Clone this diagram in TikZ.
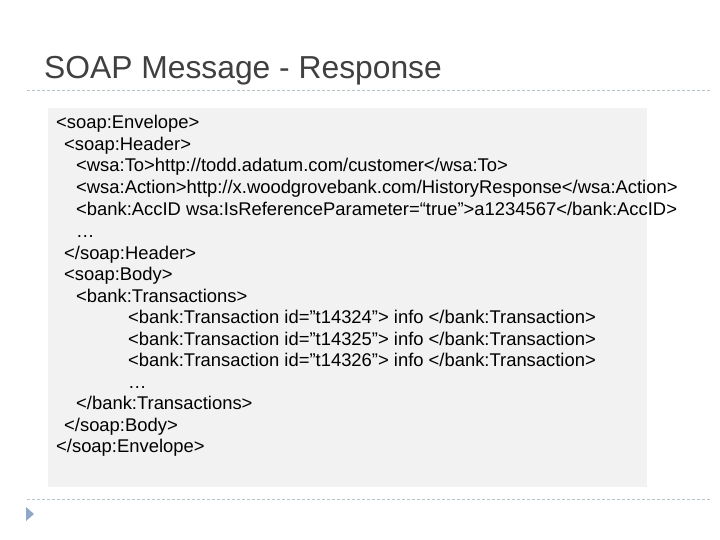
\documentclass[tikz,border=0pt]{standalone}
\usepackage{fontspec}
\setmainfont{Liberation Sans}
\definecolor{boxgray}{HTML}{F2F2F2}
\definecolor{titlegray}{HTML}{404040}
\definecolor{dashgray}{HTML}{B8C4CC}
\definecolor{bulletblue}{HTML}{8FA8C8}
\tikzset{codeline/.style={anchor=base west,inner sep=0pt,font=\fontsize{18.4}{21}\selectfont,text=black},
  rule/.style={draw=dashgray,dash pattern=on 3pt off 2pt,line width=0.8pt}}
\begin{document}
\begin{tikzpicture}[x=1pt,y=-1pt]
\useasboundingbox (0,0) rectangle (720,540);
\node[anchor=base west,inner sep=0pt,text=titlegray,font=\fontsize{31.8}{36}\selectfont] (title) at (44,79) {SOAP Message - Response};
\coordinate (r1a) at (27,90); \coordinate (r1b) at (712,90);
\draw[rule] (r1a) -- (r1b);
\fill[boxgray] (48,108) rectangle (647,487);
\node[codeline] (l1) at (56,129) {<soap:Envelope>};
\node[codeline] (l2) at (64,151) {<soap:Header>};
\node[codeline] (l3) at (76,172) {<wsa:To>http://todd.adatum.com/customer</wsa:To>};
\node[codeline] (l4) at (76,194) {<wsa:Action>http://x.woodgrovebank.com/HistoryResponse</wsa:Action>};
\node[codeline] (l5) at (76,215) {<bank:AccID wsa:IsReferenceParameter=“true”>a1234567</bank:AccID>};
\node[codeline] (l6) at (76,237) {…};
\node[codeline] (l7) at (64,259) {</soap:Header>};
\node[codeline] (l8) at (64,280) {<soap:Body>};
\node[codeline] (l9) at (76,302) {<bank:Transactions>};
\node[codeline] (l10) at (128,323) {<bank:Transaction id=”t14324”> info </bank:Transaction>};
\node[codeline] (l11) at (128,345) {<bank:Transaction id=”t14325”> info </bank:Transaction>};
\node[codeline] (l12) at (128,366) {<bank:Transaction id=”t14326”> info </bank:Transaction>};
\node[codeline] (l13) at (128,388) {…};
\node[codeline] (l14) at (76,409) {</bank:Transactions>};
\node[codeline] (l15) at (64,431) {</soap:Body>};
\node[codeline] (l16) at (56,452) {</soap:Envelope>};
\coordinate (r2a) at (27,499); \coordinate (r2b) at (712,499);
\draw[rule] (r2a) -- (r2b);
\fill[bulletblue] (26,507) -- (34,514) -- (26,521) -- cycle;
\end{tikzpicture}
\end{document}
